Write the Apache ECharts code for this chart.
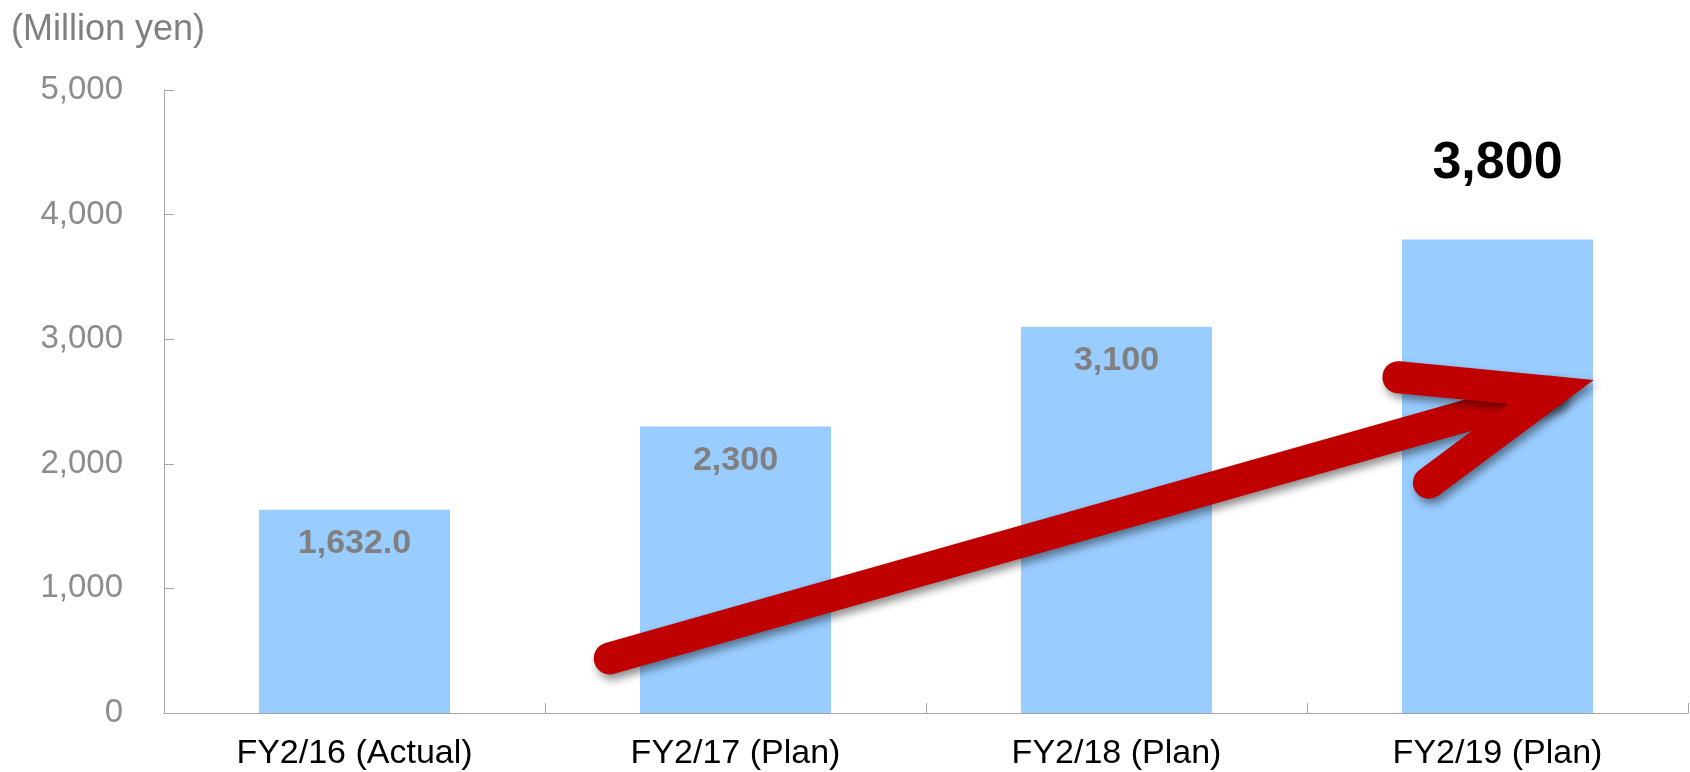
<!DOCTYPE html>
<html>
<head>
<meta charset="utf-8">
<script src="https://cdn.jsdelivr.net/npm/echarts@6/dist/echarts.min.js"></script>
<style>
  html, body { margin: 0; padding: 0; background: #ffffff; }
  #chart { width: 1690px; height: 772px; }
</style>
</head>
<body>
<div id="chart"></div>
<script>
// ---- data ----
var unitLabel = '(Million yen)';
var categories = ['FY2/16 (Actual)', 'FY2/17 (Plan)', 'FY2/18 (Plan)', 'FY2/19 (Plan)'];
var values = [1632.0, 2300, 3100, 3800];
var valueLabels = ['1,632.0', '2,300', '3,100', '3,800'];
var highlightIndex = 3; // bar whose value is shown large above it
var yTicks = { min: 0, max: 5000, interval: 1000 };
// red trend arrow (annotation) in [category position, value] space
var arrowShaft = [[0.67, 438], [3.14, 2577]];
var arrowHead = [[2.74, 2695], [3.14, 2577], [2.82, 1848]];

// ---- chart ----
var chart = echarts.init(document.getElementById('chart'), null, { renderer: 'canvas' });
var FONT = '"Liberation Sans", Arial, sans-serif';

var barData = values.map(function (v, i) {
  if (i === highlightIndex) {
    return {
      value: v,
      label: {
        show: true, position: 'top', distance: 50,
        fontSize: 52, lineHeight: 52, fontWeight: 'bold', color: '#000000',
        formatter: valueLabels[i]
      }
    };
  }
  return {
    value: v,
    label: {
      show: true, position: 'insideTop', distance: 17,
      fontSize: 34, lineHeight: 34, fontWeight: 'bold', color: '#808080',
      formatter: valueLabels[i]
    }
  };
});

var arrowStyle = {
  color: '#C00000', width: 32, cap: 'round', join: 'miter', miterLimit: 10,
  shadowColor: 'rgba(0,0,0,0.45)', shadowBlur: 8, shadowOffsetX: 3, shadowOffsetY: 5
};

var option = {
  animation: false,
  textStyle: { fontFamily: FONT },
  title: {
    text: unitLabel, left: 6, top: 7,
    textStyle: { fontFamily: FONT, fontSize: 36, fontWeight: 'normal', color: '#808080' }
  },
  grid: { left: 164, right: 2, top: 90, bottom: 59, containLabel: false },
  xAxis: [
    {
      type: 'category', data: categories,
      axisLine: { show: true, onZero: false, lineStyle: { color: '#a6a6a6', width: 1 } },
      axisTick: { show: true, inside: true, length: 10, alignWithLabel: false, lineStyle: { color: '#a6a6a6' } },
      axisLabel: { fontFamily: FONT, fontSize: 34, lineHeight: 34, color: '#000000', margin: 24, interval: 0 },
      splitLine: { show: false }
    },
    { type: 'value', min: -0.5, max: 3.5, show: false }
  ],
  yAxis: {
    type: 'value', min: yTicks.min, max: yTicks.max, interval: yTicks.interval,
    position: 'left',
    axisLine: { show: true, onZero: false, lineStyle: { color: '#a6a6a6', width: 1 } },
    axisTick: { show: true, inside: true, length: 10, lineStyle: { color: '#a6a6a6' } },
    axisLabel: {
      fontFamily: FONT, fontSize: 33, color: '#8c8c8c', margin: 41,
      formatter: function (v) { return v.toLocaleString('en-US'); }
    },
    splitLine: { show: false }
  },
  series: [
    {
      type: 'bar', xAxisIndex: 0, data: barData, barWidth: 191,
      itemStyle: { color: '#99CCFF' }, z: 2
    },
    {
      type: 'line', xAxisIndex: 1, data: arrowShaft, symbol: 'none', silent: true,
      lineStyle: arrowStyle, z: 5
    },
    {
      type: 'line', xAxisIndex: 1, data: arrowHead, symbol: 'none', silent: true,
      lineStyle: arrowStyle, z: 6
    }
  ]
};
chart.setOption(option);
</script>
</body>
</html>
